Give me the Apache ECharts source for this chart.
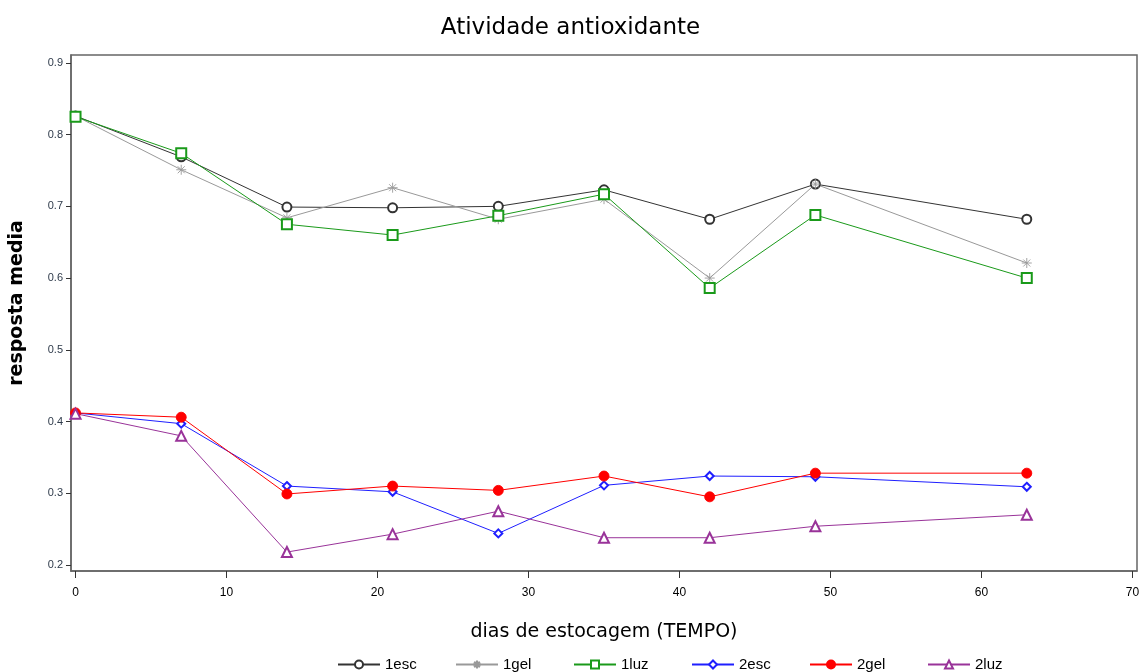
<!DOCTYPE html>
<html>
<head>
<meta charset="utf-8">
<script src="https://cdn.jsdelivr.net/npm/echarts@6/dist/echarts.min.js"></script>
<style>
  html, body { margin: 0; padding: 0; background: #fff; }
  #chart { width: 1141px; height: 672px; }
</style>
</head>
<body>
<div id="chart"></div>
<script>
// Storage days (TEMPO)
const days = [0, 7, 14, 21, 28, 35, 42, 49, 63];

// Mean antioxidant response per treatment
const s1esc = [0.826, 0.769, 0.699, 0.698, 0.700, 0.723, 0.682, 0.731, 0.682];
const s1gel = [0.826, 0.751, 0.684, 0.726, 0.682, 0.710, 0.600, 0.731, 0.621];
const s1luz = [0.825, 0.774, 0.675, 0.660, 0.687, 0.717, 0.586, 0.688, 0.600];
const s2esc = [0.412, 0.397, 0.310, 0.302, 0.244, 0.311, 0.324, 0.323, 0.309];
const s2gel = [0.412, 0.406, 0.299, 0.310, 0.304, 0.324, 0.295, 0.328, 0.328];
const s2luz = [0.411, 0.380, 0.218, 0.243, 0.275, 0.238, 0.238, 0.254, 0.270];

// Tick labels
const xTicks = [0, 10, 20, 30, 40, 50, 60, 70];
const yTicks = [0.2, 0.3, 0.4, 0.5, 0.6, 0.7, 0.8, 0.9];

// Legend entries, in order
const names = ['1esc', '1gel', '1luz', '2esc', '2gel', '2luz'];

const asterisk = 'path://M0,5L10,5M5,0L5,10M1.5,1.5L8.5,8.5M8.5,1.5L1.5,8.5';

function pairs(vals) {
  return days.map((d, i) => [d, vals[i]]);
}

function lineSeries(name, vals, color, symbol, size) {
  return {
    name: name,
    type: 'line',
    data: pairs(vals),
    symbol: symbol,
    symbolSize: size,
    showAllSymbol: true,
    lineStyle: { color: color, width: 1 },
    itemStyle: { color: color, borderColor: color, borderWidth: 0.9 },
    emphasis: { disabled: true },
    animation: false
  };
}

// One legend block per entry, laid out on a fixed pitch along the bottom
const legendLeft = 332;
const legendPitch = 118;
const legends = names.map((n, i) => ({
  top: 652,
  left: legendLeft + i * legendPitch,
  itemWidth: 42,
  itemHeight: 10,
  textStyle: { fontFamily: 'Liberation Sans, Arial', fontSize: 15, color: '#000' },
  data: [n]
}));

const chart = echarts.init(document.getElementById('chart'), null, { renderer: 'canvas' });

chart.setOption({
  backgroundColor: '#fff',
  title: {
    text: 'Atividade antioxidante',
    left: 'center',
    top: 12,
    textStyle: { fontFamily: 'DejaVu Sans', fontSize: 23, fontWeight: 'normal', color: '#000' }
  },
  grid: {
    left: 71, right: 4, top: 55, bottom: 101,
    outerBoundsMode: 'none',
    containLabel: false,
    show: true, borderColor: '#666', borderWidth: 1.5, backgroundColor: 'transparent'
  },
  xAxis: {
    type: 'value',
    min: -0.3,
    max: 70.3,
    name: 'dias de estocagem (TEMPO)',
    nameLocation: 'middle',
    nameGap: 52,
    nameTextStyle: { fontFamily: 'DejaVu Sans', fontSize: 19, color: '#000' },
    axisLine: { show: true, onZero: false, lineStyle: { color: '#666', width: 1.5 } },
    axisTick: { show: true, customValues: xTicks, length: 7, lineStyle: { color: '#333' } },
    axisLabel: {
      customValues: xTicks, margin: 16,
      fontFamily: 'Liberation Sans, Arial', fontSize: 12, color: '#000'
    },
    splitLine: { show: false }
  },
  yAxis: {
    type: 'value',
    min: 0.1916,
    max: 0.911,
    name: 'resposta media',
    nameLocation: 'middle',
    nameGap: 44,
    nameTextStyle: {
      fontFamily: 'DejaVu Sans', fontSize: 19, fontWeight: 'bold', color: '#000',
      padding: [0, 0, 0, 20]
    },
    axisLine: { show: true, onZero: false, lineStyle: { color: '#666', width: 1.5 } },
    axisTick: { show: true, customValues: yTicks, length: 5, lineStyle: { color: '#333' } },
    axisLabel: {
      customValues: yTicks, margin: 8,
      formatter: v => v.toFixed(1),
      fontFamily: 'Liberation Sans, Arial', fontSize: 11, color: '#2e3a4a'
    },
    splitLine: { show: false }
  },
  legend: legends,
  series: [
    lineSeries('1esc', s1esc, '#333333', 'emptyCircle', 9),
    lineSeries('1gel', s1gel, '#999999', asterisk, 10),
    lineSeries('1luz', s1luz, '#1a9a1a', 'emptyRect', 10),
    lineSeries('2esc', s2esc, '#1f1fff', 'emptyDiamond', 8),
    lineSeries('2gel', s2gel, '#ff0000', 'circle', 10),
    lineSeries('2luz', s2luz, '#993399', 'emptyTriangle', 10)
  ]
});
</script>
</body>
</html>
